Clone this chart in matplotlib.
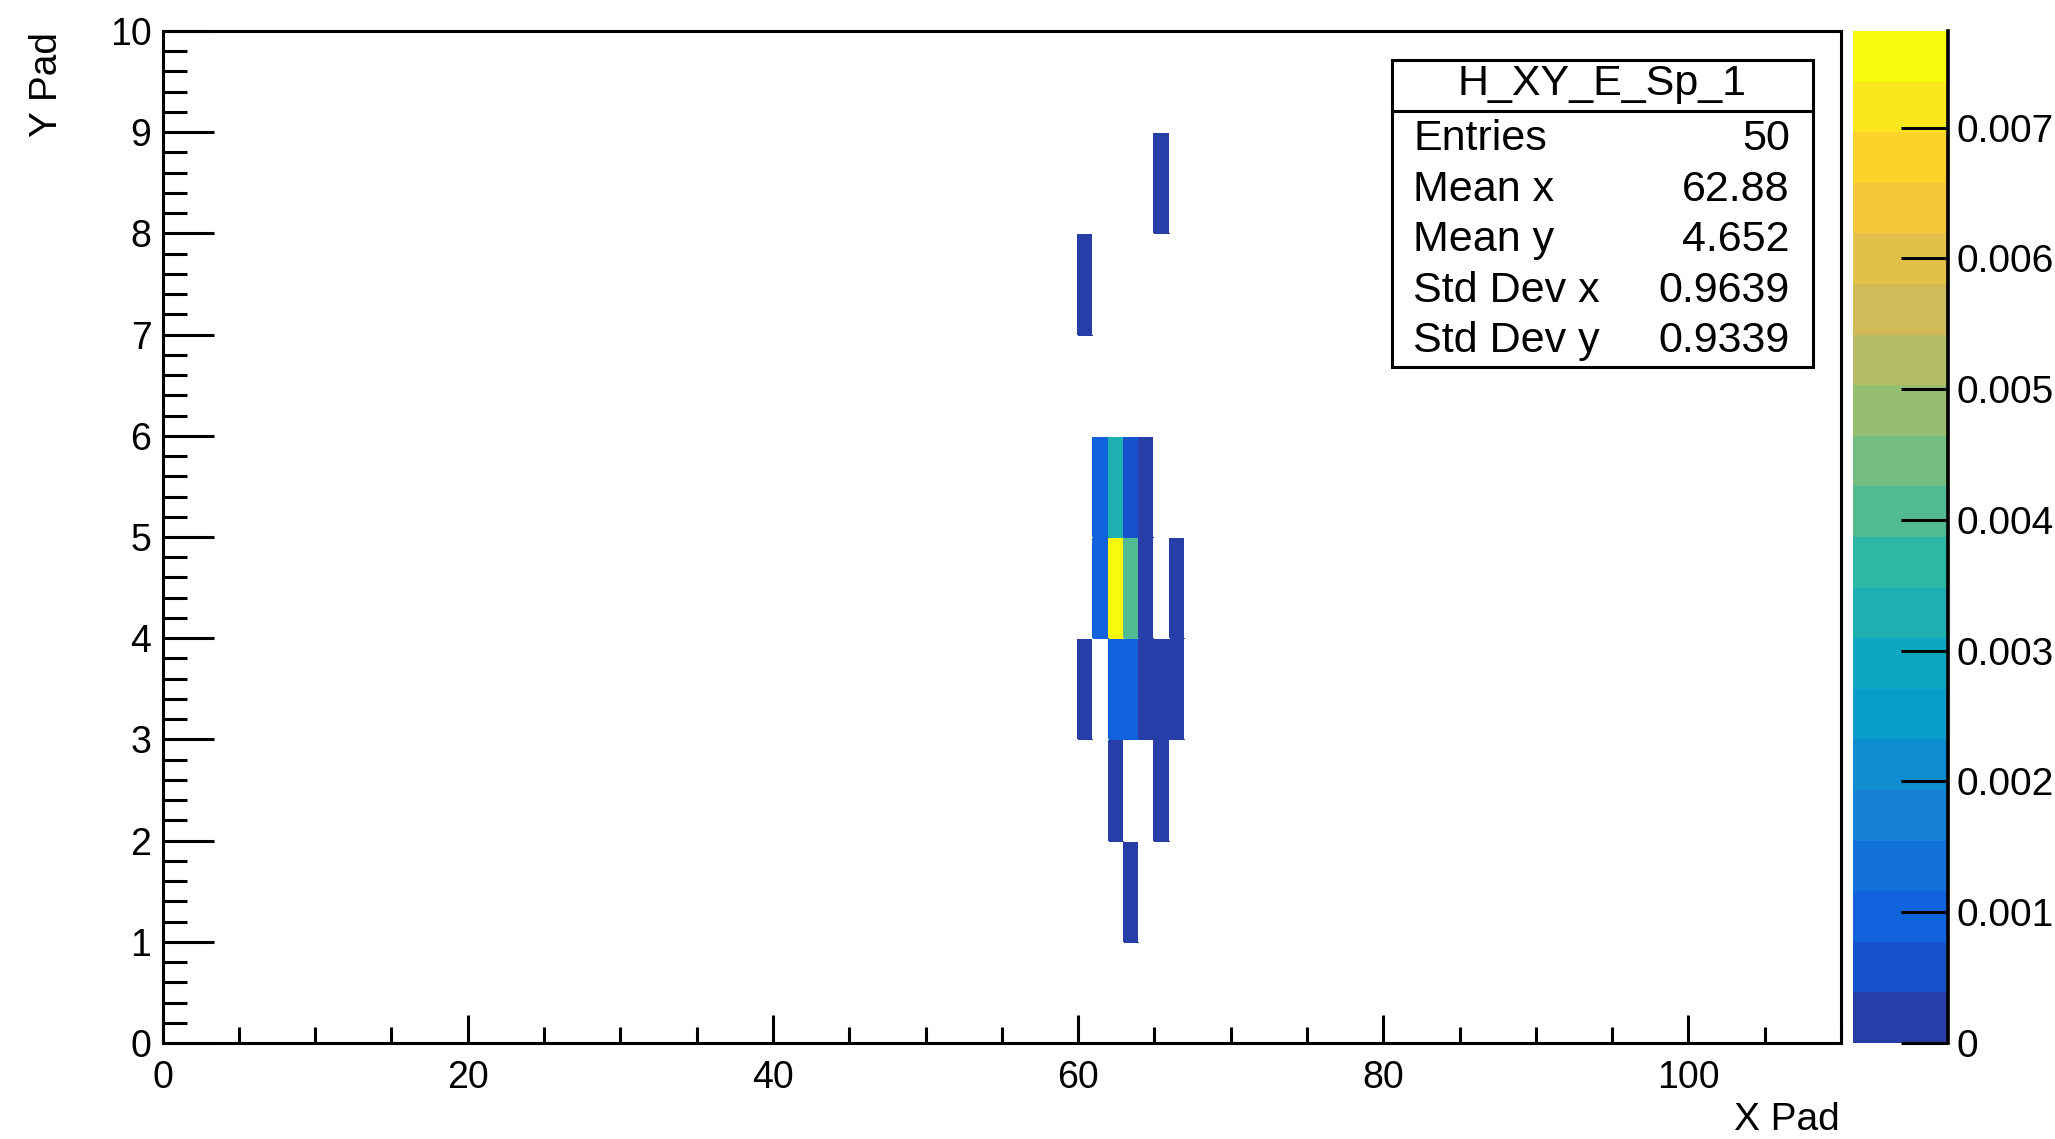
import numpy as np
import matplotlib
matplotlib.use("Agg")
import matplotlib.pyplot as plt
from matplotlib.colors import LinearSegmentedColormap, ListedColormap, BoundaryNorm
from matplotlib.patches import Rectangle
from matplotlib.ticker import MultipleLocator

plt.rcParams['font.family'] = ['Liberation Sans', 'DejaVu Sans']

# histogram binning (1 pad per bin)
x_edges = np.arange(0, 111, 1)
y_edges = np.arange(0, 11, 1)

# filled cells: lower edge of x bin, lower edge of y bin, content
cell_x = [65, 60, 61, 62, 63, 64, 61, 62, 63, 64, 66, 60, 62, 63, 64, 65, 66, 62, 65, 63]
cell_y = [8, 7, 5, 5, 5, 5, 4, 4, 4, 4, 4, 3, 3, 3, 3, 3, 3, 2, 2, 1]
cell_z = [0.0002, 0.0002,
          0.00095, 0.0033, 0.0006, 0.0002,
          0.00095, 0.00774, 0.0041, 0.0002, 0.0002,
          0.0002, 0.00095, 0.00095, 0.0002, 0.0002, 0.0002,
          0.0002, 0.0002,
          0.0002]

cbar_ticks = [0, 0.001, 0.002, 0.003, 0.004, 0.005, 0.006, 0.007]
cbar_labels = ["0", "0.001", "0.002", "0.003", "0.004", "0.005", "0.006", "0.007"]

stats_title = "H_XY_E_Sp_1"
stats_names = ["Entries", "Mean x", "Mean y", "Std Dev x", "Std Dev y"]
stats_values = ["50", "62.88", "4.652", "0.9639", "0.9339"]

# ROOT kBird palette, 20 contour levels
stops = [0.0, 0.125, 0.25, 0.375, 0.5, 0.625, 0.75, 0.875, 1.0]
red = [0.2082, 0.0592, 0.0780, 0.0232, 0.1802, 0.5301, 0.8186, 0.9956, 0.9764]
green = [0.1664, 0.3599, 0.5041, 0.6419, 0.7178, 0.7492, 0.7328, 0.7862, 0.9832]
blue = [0.5293, 0.8684, 0.8385, 0.7914, 0.6425, 0.4662, 0.3499, 0.1968, 0.0539]
bird = LinearSegmentedColormap.from_list(
    "bird", list(zip(stops, zip(red, green, blue))), N=255)
ncont = 20
pos = np.floor((np.arange(ncont) + 0.99) * 255 / ncont) / 254
cmap = ListedColormap(bird(pos))
cmap.set_bad("white")

H = np.zeros((len(y_edges) - 1, len(x_edges) - 1))
for x, y, z in zip(cell_x, cell_y, cell_z):
    H[y, x] = z
H = np.ma.masked_where(H <= 0, H)
zmax = max(cell_z)
norm = BoundaryNorm(np.linspace(0, zmax, ncont + 1), ncont)

fig = plt.figure(figsize=(20.55, 11.39), dpi=100)
ax = fig.add_axes([0.0791, 0.0843, 0.8168, 0.8885])
mesh = ax.pcolormesh(x_edges, y_edges, H, cmap=cmap, norm=norm,
                     antialiased=False, edgecolors="face", linewidth=0.3)
ax.set_xlim(0, 110)
ax.set_ylim(0, 10)

lw = 2.2
for s in ax.spines.values():
    s.set_linewidth(lw)
ax.xaxis.set_major_locator(MultipleLocator(20))
ax.xaxis.set_minor_locator(MultipleLocator(5))
ax.yaxis.set_major_locator(MultipleLocator(1))
ax.yaxis.set_minor_locator(MultipleLocator(0.2))
ax.tick_params(axis="x", which="major", direction="in", length=20, width=lw,
               labelsize=27, pad=12)
ax.tick_params(axis="x", which="minor", direction="in", length=11.5, width=lw)
ax.tick_params(axis="y", which="major", direction="in", length=37, width=lw,
               labelsize=27, pad=8)
ax.tick_params(axis="y", which="minor", direction="in", length=17, width=lw)

fig.text(0.0231, 0.972, "Y Pad", rotation=90, ha="center", va="top", fontsize=28)
fig.text(0.8954, 0.0079, "X Pad", ha="right", va="baseline", fontsize=28)

# colour scale
cax = fig.add_axes([0.9017, 0.0843, 0.0462, 0.8885])
cbar = fig.colorbar(mesh, cax=cax, spacing="proportional")
cbar.outline.set_visible(False)
cbar.set_ticks(cbar_ticks)
cbar.set_ticklabels(cbar_labels)
cax.tick_params(which="both", direction="in", length=34, width=lw,
                labelsize=28, pad=6, right=True, left=False)
cax.minorticks_off()
cax.plot([1, 1], [0, 1], transform=cax.transAxes, color="black",
         lw=lw * 1.2, clip_on=False)

# statistics box
bx0, bx1 = 0.6774, 0.8822
by0, by1 = 0.6778, 0.9473
fig.add_artist(Rectangle((bx0, by0), bx1 - bx0, by1 - by0, transform=fig.transFigure,
                         facecolor="white", edgecolor="black", lw=lw))
fig.add_artist(plt.Line2D([bx0, bx1], [0.9025, 0.9025], transform=fig.transFigure,
                          color="black", lw=lw))
fig.text((bx0 + bx1) / 2, 0.9166, stats_title, ha="center", va="baseline", fontsize=31)
row_y = [0.8683, 0.8239, 0.7796, 0.7352, 0.6909]
for name, val, yy in zip(stats_names, stats_values, row_y):
    fig.text(0.6878, yy, name, ha="left", va="baseline", fontsize=31)
    fig.text(0.8710, yy, val, ha="right", va="baseline", fontsize=31)

fig.savefig("out.png", dpi=100)
